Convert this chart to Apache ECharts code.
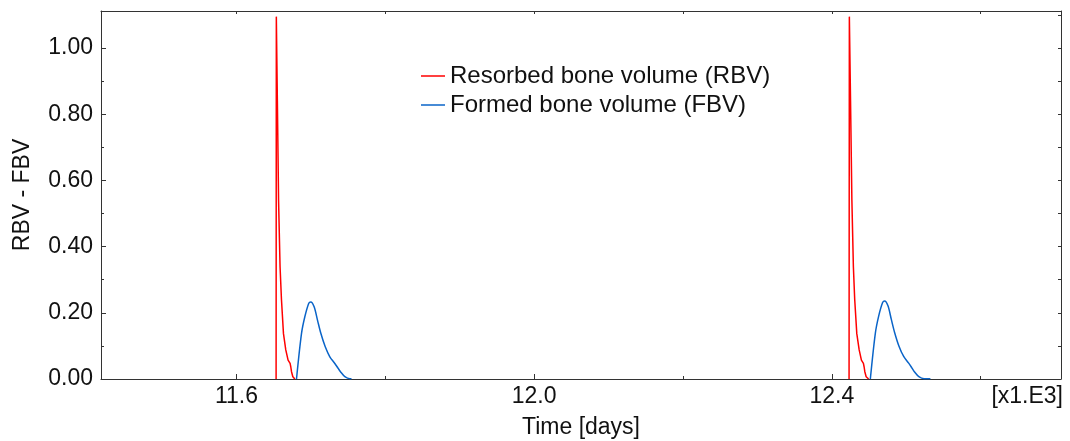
<!DOCTYPE html>
<html>
<head>
<meta charset="utf-8">
<script src="https://cdn.jsdelivr.net/npm/echarts@6/dist/echarts.min.js"></script>
<style>
html,body{margin:0;padding:0;background:#fff;}
#chart{width:1070px;height:441px;}
</style>
</head>
<body>
<div id="chart"></div>
<script>
// ---- data (time in thousands of days) ----
const seriesNames = ['Resorbed bone volume (RBV)', 'Formed bone volume (FBV)'];
const rbvTime = [11.6533, 11.6536, 11.6550, 11.6566, 11.6586, 11.6605, 11.6632, 11.6663, 11.6694, 11.6721, 11.6730, 11.6740, 11.6758, 11.6785,
                 null,
                 12.4232, 12.4236, 12.4252, 12.4270, 12.4290, 12.4308, 12.4336, 12.4368, 12.4398, 12.4425, 12.4434, 12.4444, 12.4462, 12.4495];
const rbvValue = [0, 1.095, 0.84, 0.54, 0.34, 0.24, 0.137, 0.088, 0.057, 0.047, 0.037, 0.022, 0.007, 0,
                  null,
                  0, 1.095, 0.84, 0.54, 0.34, 0.24, 0.137, 0.088, 0.057, 0.047, 0.037, 0.022, 0.007, 0];
const fbvTime = [11.6807, 11.6874, 11.6919, 11.6972, 11.6999, 11.7044, 11.7089, 11.7134, 11.7192, 11.7255, 11.7322, 11.7367, 11.7398, 11.7457, 11.7524, 11.7546,
                 null,
                 12.4518, 12.4585, 12.4630, 12.4683, 12.4710, 12.4755, 12.4800, 12.4845, 12.4903, 12.4966, 12.5033, 12.5078, 12.5110, 12.5170, 12.5240, 12.5325];
const fbvValue = [0, 0.137, 0.188, 0.229, 0.233, 0.218, 0.178, 0.138, 0.098, 0.067, 0.047, 0.032, 0.022, 0.007, 0.001, 0.001,
                  null,
                  0, 0.138, 0.190, 0.231, 0.236, 0.221, 0.180, 0.140, 0.099, 0.068, 0.048, 0.033, 0.022, 0.007, 0.001, 0.001];
const xMajorTicks = [11.6, 12.0, 12.4];
const xMinorTicks = [11.8, 12.2, 12.6];
const xAllTicks = [11.6, 11.8, 12.0, 12.2, 12.4, 12.6];
const yMajorTicks = [0, 0.2, 0.4, 0.6, 0.8, 1.0];
const yMinorTicks = [0.1, 0.3, 0.5, 0.7, 0.9];
const yAllTicks = [0, 0.1, 0.2, 0.3, 0.4, 0.5, 0.6, 0.7, 0.8, 0.9, 1.0, 1.1];
const X_MIN = 11.418, X_MAX = 12.708, Y_MIN = 0, Y_MAX = 1.112;

const pair = (xs, ys) => xs.map((x, i) => x === null ? [null, null] : [x, ys[i]]);

const FONT = "'Liberation Sans', Arial, sans-serif";
const TXT = '#111';
const FRAME = '#333';
const RED = '#ff0000';
const BLUE = '#0a64c8';

const chart = echarts.init(document.getElementById('chart'), null, {renderer: 'canvas'});
const hiddenAxisBase = {
  min: X_MIN, max: X_MAX, splitLine: {show: false}, axisLabel: {show: false}
};
chart.setOption({
  animation: false,
  backgroundColor: '#fff',
  grid: {left: 101, right: 9, top: 11, bottom: 62, outerBoundsMode: 'none', containLabel: false},
  legend: {
    orient: 'vertical', left: 416, top: 59,
    itemWidth: 24, itemHeight: 1.5, itemGap: 5,
    textStyle: {fontFamily: FONT, fontSize: 24, color: TXT, lineHeight: 24},
    data: [
      {name: seriesNames[0], icon: 'rect', itemStyle: {color: RED}},
      {name: seriesNames[1], icon: 'rect', itemStyle: {color: BLUE}}
    ]
  },
  xAxis: [
    {
      type: 'value', position: 'bottom', min: X_MIN, max: X_MAX,
      axisLine: {show: true, onZero: false, lineStyle: {color: FRAME, width: 1}},
      axisTick: {show: true, inside: true, length: 5, customValues: xMajorTicks, lineStyle: {color: FRAME}},
      axisLabel: {customValues: xMajorTicks, margin: 6, fontFamily: FONT, fontSize: 23, color: TXT,
                  formatter: v => v.toFixed(1)},
      splitLine: {show: false},
      name: 'Time [days]', nameLocation: 'middle', nameGap: 37,
      nameTextStyle: {fontFamily: FONT, fontSize: 23, color: TXT}
    },
    Object.assign({}, hiddenAxisBase, {
      type: 'value', position: 'top',
      axisLine: {show: true, onZero: false, lineStyle: {color: FRAME, width: 1}},
      axisTick: {show: true, inside: true, length: 3, customValues: xAllTicks, lineStyle: {color: FRAME}}
    }),
    Object.assign({}, hiddenAxisBase, {
      type: 'value', position: 'bottom',
      axisLine: {show: false, onZero: false},
      axisTick: {show: true, inside: true, length: 3, customValues: xMinorTicks, lineStyle: {color: FRAME}}
    })
  ],
  yAxis: [
    {
      type: 'value', position: 'left', min: Y_MIN, max: Y_MAX,
      axisLine: {show: true, onZero: false, lineStyle: {color: FRAME, width: 1}},
      axisTick: {show: true, inside: true, length: 5, customValues: yMajorTicks, lineStyle: {color: FRAME}},
      axisLabel: {customValues: yMajorTicks, margin: 8, fontFamily: FONT, fontSize: 23, color: TXT,
                  formatter: v => v.toFixed(2)},
      splitLine: {show: false},
      name: 'RBV - FBV', nameLocation: 'middle', nameGap: 67,
      nameTextStyle: {fontFamily: FONT, fontSize: 23, color: TXT}
    },
    {
      type: 'value', position: 'right', min: Y_MIN, max: Y_MAX,
      splitLine: {show: false}, axisLabel: {show: false},
      axisLine: {show: true, onZero: false, lineStyle: {color: FRAME, width: 1}},
      axisTick: {show: true, inside: true, length: 3, customValues: yAllTicks, lineStyle: {color: FRAME}}
    },
    {
      type: 'value', position: 'left', min: Y_MIN, max: Y_MAX,
      splitLine: {show: false}, axisLabel: {show: false},
      axisLine: {show: false, onZero: false},
      axisTick: {show: true, inside: true, length: 3, customValues: yMinorTicks, lineStyle: {color: FRAME}}
    }
  ],
  graphic: [{
    type: 'text', right: 7, top: 385,
    style: {text: '[x1.E3]', fontFamily: FONT, fontSize: 23, fill: TXT}
  }],
  series: [
    {
      name: seriesNames[0], type: 'line', xAxisIndex: 0, yAxisIndex: 0,
      data: pair(rbvTime, rbvValue), showSymbol: false, symbol: 'none',
      connectNulls: false, lineStyle: {color: RED, width: 1.5}, itemStyle: {color: RED}
    },
    {
      name: seriesNames[1], type: 'line', xAxisIndex: 0, yAxisIndex: 0,
      data: pair(fbvTime, fbvValue), showSymbol: false, symbol: 'none', smooth: 0.3,
      connectNulls: false, lineStyle: {color: BLUE, width: 1.5}, itemStyle: {color: BLUE}
    }
  ]
});
</script>
</body>
</html>
